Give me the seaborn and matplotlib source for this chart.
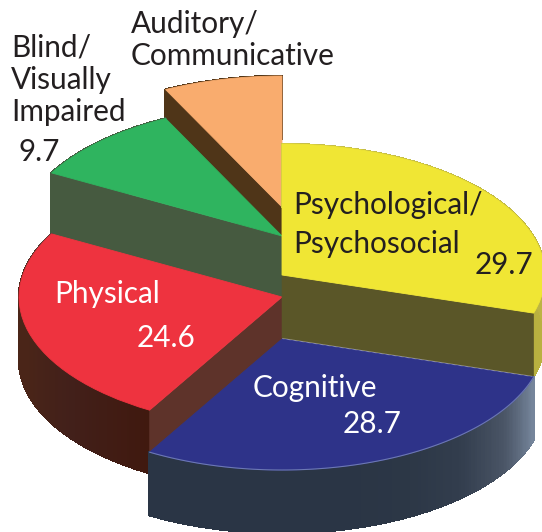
import matplotlib
matplotlib.use("Agg")
import matplotlib.pyplot as plt
import numpy as np
import seaborn as sns
from matplotlib.collections import PolyCollection
from matplotlib.colors import LinearSegmentedColormap
from matplotlib.transforms import Affine2D

# share of each group, clockwise from 12 o'clock
names = ["Psychological", "Cognitive", "Physical", "Blind", "Auditory"]
shares = [29.7, 28.7, 24.6, 9.7, 7.3]

top_colors = ["#F0E634", "#2E3389", "#EE333F", "#2FB45F", "#F9AC6E"]
face_colors = ["#5A5628", None, "#5E332A", "#465A40", "#4F3518"]
# wall shading, right end first
wall_colors = [
    ["#C8C04A", "#B8B040"],
    ["#75859B", "#4A5566", "#333E4E", "#2C3746", "#2A3545", "#2A3545", "#2A3545", "#2A3545"],
    ["#40190F", "#42201A", "#4A2518", "#4A2518", "#55403A"],
    ["#465A40", "#465A40"],
    ["#4F3518", "#4F3518"],
]
# apex height (pixels from the bottom) and stacking of each slice
apex_y = [257, 193, 235, 296, 325]
z_order = [4, 5, 3, 2, 1]
face_edge = ["theta1", "theta2", "theta2", "theta2", "theta2"]

CENTER_X = 282
RX, RY = 263, 131
DEPTH = 63
W, H = 542, 532

sns.set_theme(style="white")
plt.rcParams["font.family"] = "Lato"

fig = plt.figure(figsize=(W / 100, H / 100), dpi=100)
ax = fig.add_axes([0, 0, 1, 1])

wedges, _ = ax.pie(shares, startangle=90, counterclock=False, colors=top_colors)


def rim(deg, cy):
    rad = np.radians(deg)
    return CENTER_X + RX * np.cos(rad), cy + RY * np.sin(rad)


for i, wedge in enumerate(wedges):
    cy = apex_y[i]
    z = z_order[i] * 10
    wedge.set_transform(Affine2D().scale(RX, RY).translate(CENTER_X, cy) + ax.transData)
    wedge.set_zorder(z + 2)
    wedge.set_edgecolor(top_colors[i])
    wedge.set_linewidth(0.6)

    # outer wall, split in narrow strips for the shading
    angles = np.linspace(wedge.theta1, wedge.theta2, 160)
    cmap = LinearSegmentedColormap.from_list("wall", wall_colors[i])
    quads = []
    for a0, a1 in zip(angles[:-1], angles[1:]):
        x0, y0 = rim(a0, cy)
        x1, y1 = rim(a1, cy)
        quads.append([(x0, y0), (x1, y1), (x1, y1 - DEPTH), (x0, y0 - DEPTH)])
    ax.add_collection(PolyCollection(
        quads, facecolors=cmap(np.linspace(0, 1, len(quads))[::-1]),
        edgecolors="face", linewidths=1.0, antialiaseds=False, zorder=z))

    # flat cut side along one edge of the slice
    if face_colors[i] is not None:
        x, y = rim(getattr(wedge, face_edge[i]), cy)
        ax.fill([CENTER_X, x, x, CENTER_X], [cy, y, y - DEPTH, cy - DEPTH],
                color=face_colors[i], lw=0.4, zorder=z + 1)

ax.set_aspect("auto")
ax.set_xlim(0, W)
ax.set_ylim(0, H)
ax.axis("off")

# thin lighter rim on the blue slice
blue = wedges[1]
arc = np.linspace(blue.theta1, blue.theta2, 100)
bx, by = rim(arc, apex_y[1])
ax.plot(bx, by, color="#6C78B4", lw=0.8, zorder=z_order[1] * 10 + 3)

DARK = "#231F20"
# text, left edge, baseline from the top, colour
labels = [
    ("Auditory/", 131, 33, DARK),
    ("Communicative", 131, 65, DARK),
    ("Blind/", 11, 57, DARK),
    ("Visually", 11, 89, DARK),
    ("Impaired", 11, 121, DARK),
    (str(shares[3]), 18, 161, DARK),
    ("Psychological/", 293, 214, DARK),
    ("Psychosocial", 293, 253, DARK),
    (str(shares[0]), 475, 274, DARK),
    ("Physical", 54, 303, "white"),
    (str(shares[2]), 137, 347, "white"),
    ("Cognitive", 253, 397, "white"),
    (str(shares[1]), 343, 433, "white"),
]
for text, x, y, color in labels:
    ax.text(x, H - y, text, color=color, ha="left", va="baseline", fontsize=21.4,
            zorder=100)

fig.savefig("out.png", dpi=100)
plt.close("all")
